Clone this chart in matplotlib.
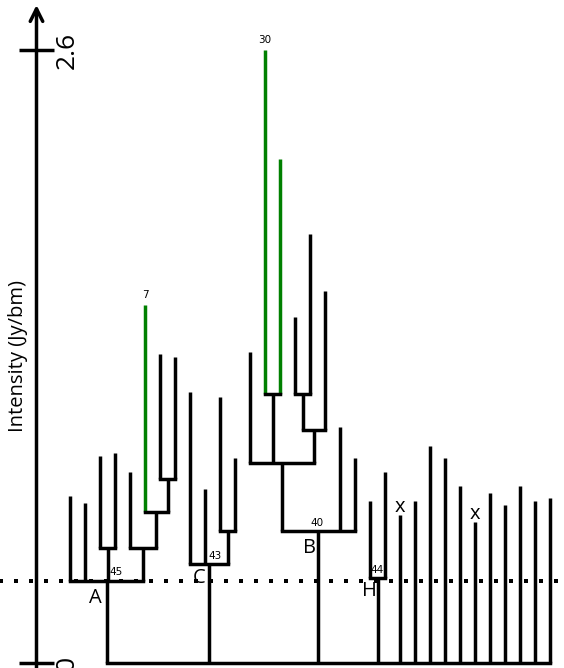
import matplotlib
matplotlib.use("Agg")
import matplotlib.pyplot as plt
from matplotlib.collections import LineCollection

# ---------------- data ----------------
# peak intensity (Jy/bm) of each leaf, in dendrogram order
leaf_peaks = [0.71, 0.68, 0.88, 0.89, 0.81, 1.52, 1.31, 1.30,
              1.15, 0.74, 1.13, 0.87,
              1.32, 2.60, 2.14, 1.47, 1.82, 1.58, 1.00, 0.87,
              0.69, 0.81,
              0.63, 0.69, 0.92, 0.87, 0.75, 0.60, 0.72, 0.67, 0.75, 0.69, 0.70]
green_leaves = [5, 13, 14]
leaf_numbers = [(5, "7"), (13, "30")]
crossed_leaves = [22, 27]

# internal nodes (ids continue after the leaves): children and merge level
node_children = [
    (2, 3),          # 33
    (6, 7),          # 34
    (5, 34),         # 35
    (4, 35),         # 36
    (0, 1, 33, 36),  # 37  A
    (10, 11),        # 38
    (8, 9, 38),      # 39  C
    (13, 14),        # 40
    (15, 16),        # 41
    (41, 17),        # 42
    (12, 40, 42),    # 43
    (43, 18, 19),    # 44  B
    (20, 21),        # 45  H
]
node_heights = [0.49, 0.78, 0.64, 0.49, 0.35, 0.56, 0.42,
                1.14, 1.14, 0.99, 0.85, 0.56, 0.36]

cluster_nodes = [37, 39, 44, 45]
cluster_letters = ["A", "C", "B", "H"]
cluster_numbers = ["45", "43", "40", "44"]

threshold = 0.35
y_ticks = [0, 2.6]
y_tick_labels = ["0", "2.6"]
y_label = "Intensity (Jy/bm)"

# ---------------- layout ----------------
W, H = 564, 668
LEAF_X0, LEAF_DX = 70, 15          # pixel layout of leaves
AXIS_X = 36.5
PX_PER_UNIT = 235.88
Y0_PX = 663.3
LW = 2.5
GREEN = "#008000"
FONT = ["Open Sans", "DejaVu Sans"]

# per-cluster text offsets (pixels): number dx, letter dx, letter dy
num_dx = [10, 6, -1, 0]
let_dx = [-11, -10, -8.5, -8]
let_dy = [-17, -14, -17, -13]

fig = plt.figure(figsize=(W / 100, H / 100), dpi=100)
ax = fig.add_axes([0, 0, 1, 1])
ax.set_xlim(0, W)
ax.set_ylim(-(H - Y0_PX) / PX_PER_UNIT, Y0_PX / PX_PER_UNIT)
ax.axis("off")

n_leaves = len(leaf_peaks)
pos = [LEAF_X0 + LEAF_DX * i for i in range(n_leaves)]
top = list(leaf_peaks)
parent = {}
for k, (ch, h) in enumerate(zip(node_children, node_heights)):
    nid = n_leaves + k
    xs = [pos[c] for c in ch]
    pos.append((min(xs) + max(xs)) / 2)
    top.append(h)
    for c in ch:
        parent[c] = nid

black_v, green_v, horiz = [], [], []
for k, (ch, h) in enumerate(zip(node_children, node_heights)):
    xs = [pos[c] for c in ch]
    horiz.append([(min(xs), h), (max(xs), h)])
    for c in ch:
        seg = [(pos[c], top[c]), (pos[c], h)]
        (green_v if c in green_leaves else black_v).append(seg)

roots = [i for i in range(len(pos)) if i not in parent]
for r in roots:
    black_v.append([(pos[r], top[r]), (pos[r], 0)])
rx = [pos[r] for r in roots]
horiz.append([(min(rx), 0), (max(rx), 0)])

ax.add_collection(LineCollection(green_v, colors=GREEN, linewidths=LW, capstyle="butt"))
ax.add_collection(LineCollection(black_v, colors="black", linewidths=LW, capstyle="butt"))
ax.add_collection(LineCollection(horiz, colors="black", linewidths=LW, capstyle="projecting"))

# threshold dotted line
ax.plot([-7, W + 10], [threshold, threshold], color="black", lw=2.88,
        linestyle=(0, (1, 2.75)), solid_capstyle="butt", dash_capstyle="butt",
        clip_on=False)

# numbers on peaks
for leaf, txt in leaf_numbers:
    ax.annotate(txt, (pos[leaf], top[leaf]), xytext=(0, 3.5), textcoords="offset points",
                ha="center", va="bottom", fontsize=7.5, family="DejaVu Sans")

for leaf in crossed_leaves:
    ax.annotate("x", (pos[leaf], top[leaf]), xytext=(0, 2.2), textcoords="offset points",
                ha="center", va="baseline", fontsize=14.5, family=FONT)

for i, n in enumerate(cluster_nodes):
    ax.annotate(cluster_numbers[i], (pos[n], top[n]), xytext=(num_dx[i] * 0.72, 2.5),
                textcoords="offset points", ha="center", va="bottom",
                fontsize=7.5, family="DejaVu Sans")
    ax.annotate(cluster_letters[i], (pos[n], top[n]),
                xytext=(let_dx[i] * 0.72, let_dy[i] * 0.72),
                textcoords="offset points", ha="center", va="center",
                fontsize=14.5, family=FONT)

# hand-drawn y axis with arrow
ybot = ax.get_ylim()[0] - 0.01
ax.annotate("", xy=(AXIS_X, (Y0_PX - 5) / PX_PER_UNIT), xytext=(AXIS_X, ybot),
            arrowprops=dict(arrowstyle="->,head_length=0.9,head_width=0.45",
                            lw=LW, color="black", shrinkA=0, shrinkB=0),
            annotation_clip=False)
for t, lab in zip(y_ticks, y_tick_labels):
    ax.plot([19, 54], [t, t], color="black", lw=2.5, solid_capstyle="butt", clip_on=False)
    ax.text(55, t, lab, rotation=90, ha="left", va="center", fontsize=19, family=FONT)

ax.text(18, (Y0_PX - 356) / PX_PER_UNIT, y_label, rotation=90, ha="center", va="center",
        fontsize=14.5, family=FONT)

fig.savefig("out.png", dpi=100)
